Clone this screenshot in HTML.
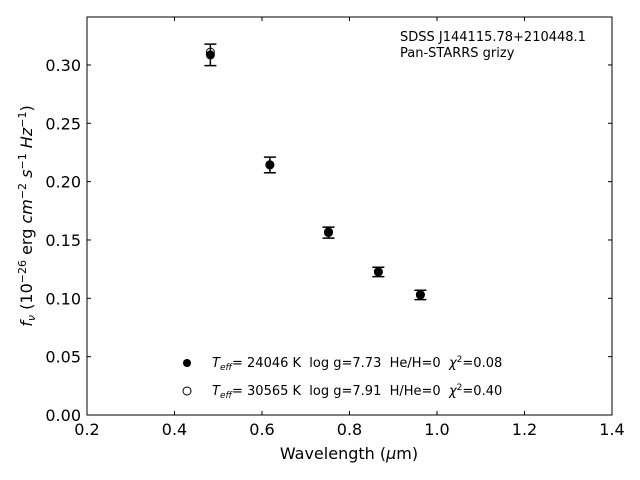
<!DOCTYPE html>
<html><head><meta charset="utf-8"><style>
body{margin:0;background:#fff}
svg{display:block;font-family:"DejaVu Sans","Liberation Sans",sans-serif}
text{white-space:pre}
</style></head><body>
<svg id="chart" width="640" height="480" viewBox="0 0 640 480">
<rect x="0" y="0" width="640" height="480" fill="#fff"/>
<g id="marks"></g>
<rect x="87" y="17" width="525" height="398" fill="none" stroke="#000" stroke-width="1"/>
<g id="axes"></g>
<text x="400" y="41" font-size="13">SDSS J144115.78+210448.1</text>
<text x="400" y="57" font-size="13">Pan-STARRS grizy</text>
<g>
<circle cx="187" cy="363" r="4" fill="#000"/>
<text x="212" y="367" font-size="13" xml:space="preserve"><tspan font-style="italic">T</tspan><tspan font-size="9" dy="3" font-style="italic">eff</tspan><tspan dy="-3">= 24046 K  log g=7.73  He/H=0  </tspan><tspan font-style="italic">χ</tspan><tspan font-size="9" dy="-5">2</tspan><tspan dy="5">=0.08</tspan></text>
<circle cx="187" cy="391" r="4" fill="#fff" stroke="#000"/>
<text x="212" y="395" font-size="13" xml:space="preserve"><tspan font-style="italic">T</tspan><tspan font-size="9" dy="3" font-style="italic">eff</tspan><tspan dy="-3">= 30565 K  log g=7.91  H/He=0  </tspan><tspan font-style="italic">χ</tspan><tspan font-size="9" dy="-5">2</tspan><tspan dy="5">=0.40</tspan></text>
</g>
<text x="349" y="459" font-size="16" text-anchor="middle">Wavelength (<tspan font-style="italic">μ</tspan>m)</text>
<text transform="translate(32,216) rotate(-90)" font-size="16" text-anchor="middle" xml:space="preserve"><tspan font-style="italic">f</tspan><tspan font-size="11" dy="3" font-style="italic">ν</tspan><tspan dy="-3"> (10</tspan><tspan font-size="11" dy="-6">−26</tspan><tspan dy="6"> erg </tspan><tspan font-style="italic">cm</tspan><tspan font-size="11" dy="-6">−2</tspan><tspan dy="6"> </tspan><tspan font-style="italic">s</tspan><tspan font-size="11" dy="-6">−1</tspan><tspan dy="6"> </tspan><tspan font-style="italic">Hz</tspan><tspan font-size="11" dy="-6">−1</tspan><tspan dy="6">)</tspan></text>
</svg>
<script>
const wavelengths = [0.482, 0.618, 0.752, 0.866, 0.962];
const fluxObs = [0.3086, 0.2143, 0.1563, 0.1226, 0.1029];
const fluxErr = [0.0092, 0.0067, 0.0047, 0.004, 0.004];
const modelHe = [0.311, 0.2145, 0.157, 0.1228, 0.1032];
const xTicks = [0.2, 0.4, 0.6, 0.8, 1.0, 1.2, 1.4];
const yTicks = [0.00, 0.05, 0.10, 0.15, 0.20, 0.25, 0.30];
const NS = "http://www.w3.org/2000/svg";
const X0 = 87, X1 = 612, Y0 = 415, Y1 = 17;
const xMin = 0.2, xMax = 1.4, yMin = 0, yMax = 0.3411;
const sx = v => X0 + (v - xMin) / (xMax - xMin) * (X1 - X0);
const sy = v => Y0 - (v - yMin) / (yMax - yMin) * (Y0 - Y1);
function mk(tag, attrs, parent){const e=document.createElementNS(NS,tag);for(const k in attrs)e.setAttribute(k,attrs[k]);parent.appendChild(e);return e;}
const axes = document.getElementById('axes');
xTicks.forEach(t => {
  const x = sx(t);
  const l = mk('line',{x1:x,x2:x,y1:Y0,y2:Y0-4,stroke:'#000'},axes);
  
  
  const l2 = mk('line',{x1:x,x2:x,y1:Y1,y2:Y1+4,stroke:'#000'},axes);
  
  
  const tx = mk('text',{x:x,y:Y0+20,'font-size':16,'text-anchor':'middle'},axes);
  tx.textContent = t.toFixed(1);
  
  
});
yTicks.forEach(t => {
  const y = sy(t);
  const l = mk('line',{x1:X0,x2:X0+4,y1:y,y2:y,stroke:'#000'},axes);
  
  
  const l2 = mk('line',{x1:X1,x2:X1-4,y1:y,y2:y,stroke:'#000'},axes);
  
  
  const tx = mk('text',{x:X0-6,y:y+6,'font-size':16,'text-anchor':'end'},axes);
  tx.textContent = t.toFixed(2);
  
  
});
const marks = document.getElementById('marks');
wavelengths.forEach((w,i) => {
  const x = sx(w);
  const c2 = mk('circle',{cx:x,cy:sy(modelHe[i]),r:4,fill:'#fff',stroke:'#000'},marks);
  
  
  const yt = sy(fluxObs[i]+fluxErr[i]), yb = sy(fluxObs[i]-fluxErr[i]);
  const g = mk('path',{d:`M${x},${yt}V${yb}M${x-6},${yt}H${x+6}M${x-6},${yb}H${x+6}`,stroke:'#000','stroke-width':1.5,fill:'none'},marks);
  
  
  const c = mk('circle',{cx:x,cy:sy(fluxObs[i]),r:4.5,fill:'#000'},marks);
  
  
});
</script>
</body></html>
